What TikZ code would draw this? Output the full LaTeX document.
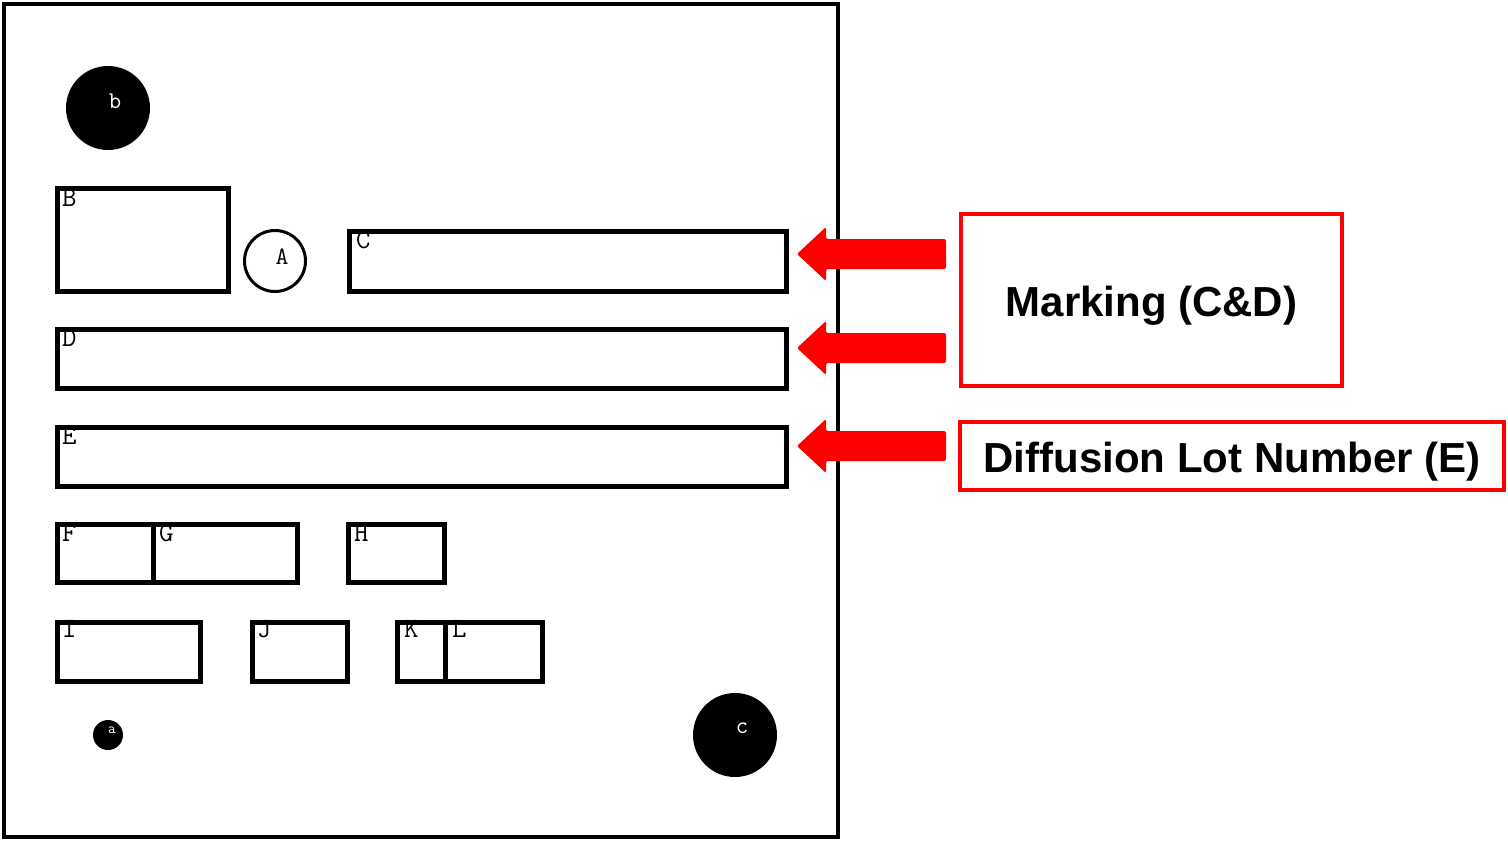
\documentclass[tikz,border=0pt]{standalone}
\usepackage{fontspec}
\setmainfont{Liberation Sans}
\definecolor{myred}{RGB}{255,0,0}
\begin{document}
\begin{tikzpicture}[x=1pt,y=-1pt,
  box/.style={draw=black, line width=5pt, minimum width=#1, inner sep=0pt, outer sep=0pt},
  lab/.style={font=\ttfamily\fontsize{28}{28}\selectfont, anchor=north west, inner sep=0pt},
  dot/.style={circle, fill=black, minimum size=#1, inner sep=0pt},
  dotlab/.style={font=\ttfamily\fontsize{24}{24}\selectfont, text=white, inner sep=0pt},
  redbox/.style={draw=myred, line width=4pt, inner sep=0pt, text height=32pt, text depth=0pt, font=\bfseries\fontsize{42}{42}\selectfont},
  redarrow/.style={fill=myred, rounded corners=2pt}]
\useasboundingbox (0,0) rectangle (1508,841);
\node[draw=black, line width=4pt, minimum width=834pt, minimum height=833pt, inner sep=0pt] (frame) at (421,420.5) {};
% circles
\node[dot=84pt] (b) at (108,108) {};
\node[dotlab] at (115,101) {b};
\node[dot=30pt] (a) at (108,735) {};
\node[dotlab, font=\ttfamily\fontsize{15}{15}\selectfont] at (112,730) {a};
\node[dot=84pt] (c) at (735,735) {};
\node[dotlab] at (742,728) {c};
\node[circle, draw=black, line width=3pt, minimum size=61pt, inner sep=0pt] (A) at (275,261) {};
\node[font=\ttfamily\fontsize{25}{25}\selectfont, inner sep=0pt] at (282,257) {A};
% labels (drawn before boxes so borders sit on top)
\foreach \n/\x/\y in {B/62/189, C/356/231, D/62/329, E/62/427, F/62/524, G/159/524, H/354/524, I/62/620, J/257/620, K/404/620, L/452/620}
  \node[lab] at (\x,\y) {\n};
% boxes
\node[box=171pt, minimum height=103pt] (B) at (143,240) {};
\node[box=437pt, minimum height=60pt] (C) at (568,261.5) {};
\node[box=729pt, minimum height=59pt] (D) at (422,359) {};
\node[box=729pt, minimum height=59pt] (E) at (422,457) {};
\node[box=95.5pt, minimum height=58pt] (F) at (105.25,553.5) {};
\node[box=144.5pt, minimum height=58pt] (G) at (225.25,553.5) {};
\node[box=96pt, minimum height=58pt] (H) at (396.5,553.5) {};
\node[box=143pt, minimum height=59pt] (I) at (129,652) {};
\node[box=95pt, minimum height=59pt] (J) at (300,652) {};
\node[box=47.5pt, minimum height=59pt] (K) at (421.25,652) {};
\node[box=97.5pt, minimum height=59pt] (L) at (493.75,652) {};
% red boxes
\node[redbox, minimum width=381pt, minimum height=172pt] (M) at (1151.5,300) {Marking (C\&D)};
\node[redbox, minimum width=544pt, minimum height=68pt] (N) at (1232,456) {Diffusion Lot Number (E)};
% arrows
\coordinate (t1) at (797,254);
\coordinate (t2) at (797,348);
\coordinate (t3) at (797,446);
\foreach \t in {t1,t2,t3}
  \fill[redarrow] (\t) -- ++(29,-27) -- ++(0,12) -- ++(120,0) -- ++(0,30) -- ++(-120,0) -- ++(0,12) -- cycle;
\end{tikzpicture}
\end{document}
